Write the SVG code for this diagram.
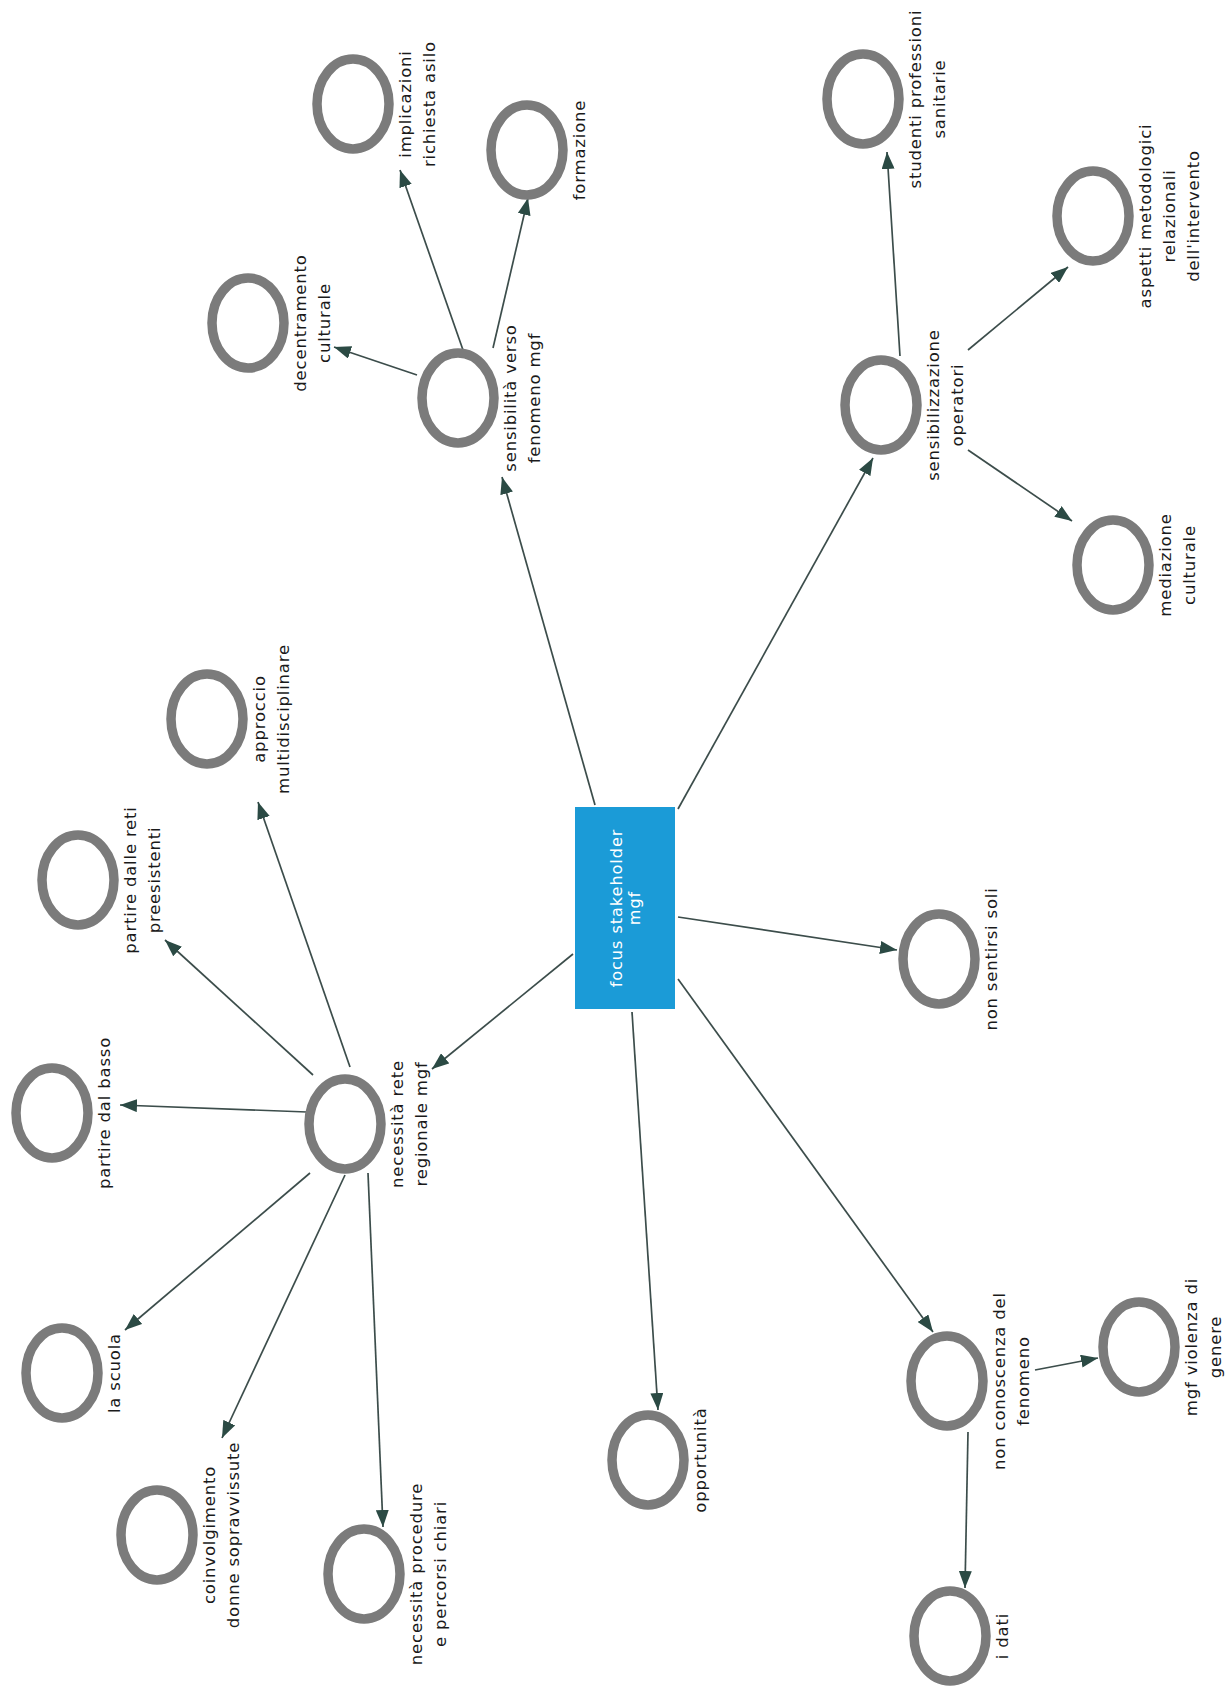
<svg xmlns="http://www.w3.org/2000/svg" width="1228" height="1687" viewBox="0 0 1228 1687">
<defs>
<marker id="arr" markerUnits="userSpaceOnUse" markerWidth="17" markerHeight="13" refX="17" refY="6.5" orient="auto" viewBox="0 0 17 13">
<path d="M0,0 L17,6.5 L0,13 z" fill="#2b4a44"/>
</marker>
<style>
.c{fill:#fff;stroke:#7b7b7b;stroke-width:9.5}
.t{font-family:"DejaVu Sans",sans-serif;font-size:16.5px;letter-spacing:0.8px;fill:#1a1a1a;text-anchor:middle}
.e line{stroke:#3c4d4b;stroke-width:1.7;marker-end:url(#arr)}
.ct{font-family:"DejaVu Sans",sans-serif;font-size:16px;letter-spacing:1px;fill:#fff;text-anchor:middle}
</style>
</defs>
<rect width="1228" height="1687" fill="#fff"/>
<g class="e" id="connectors">
<line x1="595" y1="805" x2="502" y2="477"/>
<line x1="678" y1="809" x2="873" y2="458"/>
<line x1="678" y1="917" x2="897" y2="950"/>
<line x1="678" y1="979" x2="933" y2="1332"/>
<line x1="632" y1="1012" x2="658" y2="1410"/>
<line x1="573" y1="954" x2="432" y2="1069"/>
<line x1="417" y1="375" x2="334" y2="347"/>
<line x1="463" y1="350" x2="400" y2="170"/>
<line x1="493" y1="348" x2="528" y2="198"/>
<line x1="900" y1="356" x2="887" y2="152"/>
<line x1="968" y1="350" x2="1068" y2="267"/>
<line x1="968" y1="450" x2="1072" y2="521"/>
<line x1="1035" y1="1370" x2="1098" y2="1358"/>
<line x1="968" y1="1432" x2="965" y2="1588"/>
<line x1="307" y1="1112" x2="120" y2="1105"/>
<line x1="313" y1="1075" x2="165" y2="940"/>
<line x1="350" y1="1067" x2="258" y2="802"/>
<line x1="310" y1="1173" x2="125" y2="1330"/>
<line x1="345" y1="1175" x2="222" y2="1438"/>
<line x1="368" y1="1173" x2="383" y2="1527"/>
</g>
<g id="n-center">
<rect x="575" y="807" width="100" height="202" fill="#1b9bd7"/>
<g transform="translate(622,908) rotate(-90)"><text class="ct"><tspan x="0" y="0">focus stakeholder</tspan><tspan x="0" y="18">mgf</tspan></text></g>
</g>
<g id="n-implicazioni"><ellipse class="c" cx="353" cy="104" rx="36" ry="45"/>
<g transform="translate(411,104) rotate(-90)"><text class="t"><tspan x="0" y="0">implicazioni</tspan><tspan x="0" y="24">richiesta asilo</tspan></text></g></g>
<g id="n-formazione"><ellipse class="c" cx="527" cy="150" rx="36" ry="45"/>
<g transform="translate(585,150) rotate(-90)"><text class="t"><tspan x="0" y="0">formazione</tspan></text></g></g>
<g id="n-decentramento"><ellipse class="c" cx="248" cy="323" rx="36" ry="45"/>
<g transform="translate(306,323) rotate(-90)"><text class="t"><tspan x="0" y="0">decentramento</tspan><tspan x="0" y="24">culturale</tspan></text></g></g>
<g id="n-sensibilita"><ellipse class="c" cx="458" cy="398" rx="36" ry="45"/>
<g transform="translate(516,398) rotate(-90)"><text class="t"><tspan x="0" y="0">sensibilità verso</tspan><tspan x="0" y="24">fenomeno mgf</tspan></text></g></g>
<g id="n-studenti"><ellipse class="c" cx="863" cy="99" rx="36" ry="45"/>
<g transform="translate(921,99) rotate(-90)"><text class="t"><tspan x="0" y="0">studenti professioni</tspan><tspan x="0" y="24">sanitarie</tspan></text></g></g>
<g id="n-sensibilizzazione"><ellipse class="c" cx="881" cy="405" rx="36" ry="45"/>
<g transform="translate(939,405) rotate(-90)"><text class="t"><tspan x="0" y="0">sensibilizzazione</tspan><tspan x="0" y="24">operatori</tspan></text></g></g>
<g id="n-aspetti"><ellipse class="c" cx="1093" cy="216" rx="36" ry="45"/>
<g transform="translate(1151,216) rotate(-90)"><text class="t"><tspan x="0" y="0">aspetti metodologici</tspan><tspan x="0" y="24">relazionali</tspan><tspan x="0" y="48">dell'intervento</tspan></text></g></g>
<g id="n-mediazione"><ellipse class="c" cx="1113" cy="565" rx="36" ry="45"/>
<g transform="translate(1171,565) rotate(-90)"><text class="t"><tspan x="0" y="0">mediazione</tspan><tspan x="0" y="24">culturale</tspan></text></g></g>
<g id="n-approccio"><ellipse class="c" cx="207" cy="719" rx="36" ry="45"/>
<g transform="translate(265,719) rotate(-90)"><text class="t"><tspan x="0" y="0">approccio</tspan><tspan x="0" y="24">multidisciplinare</tspan></text></g></g>
<g id="n-reti"><ellipse class="c" cx="78" cy="880" rx="36" ry="45"/>
<g transform="translate(136,880) rotate(-90)"><text class="t"><tspan x="0" y="0">partire dalle reti</tspan><tspan x="0" y="24">preesistenti</tspan></text></g></g>
<g id="n-basso"><ellipse class="c" cx="52" cy="1113" rx="36" ry="45"/>
<g transform="translate(110,1113) rotate(-90)"><text class="t"><tspan x="0" y="0">partire dal basso</tspan></text></g></g>
<g id="n-rete"><ellipse class="c" cx="345" cy="1124" rx="36" ry="45"/>
<g transform="translate(403,1124) rotate(-90)"><text class="t"><tspan x="0" y="0">necessità rete</tspan><tspan x="0" y="24">regionale mgf</tspan></text></g></g>
<g id="n-scuola"><ellipse class="c" cx="62" cy="1373" rx="36" ry="45"/>
<g transform="translate(120,1373) rotate(-90)"><text class="t"><tspan x="0" y="0">la scuola</tspan></text></g></g>
<g id="n-coinvolgimento"><ellipse class="c" cx="157" cy="1535" rx="36" ry="45"/>
<g transform="translate(215,1535) rotate(-90)"><text class="t"><tspan x="0" y="0">coinvolgimento</tspan><tspan x="0" y="24">donne sopravvissute</tspan></text></g></g>
<g id="n-procedure"><ellipse class="c" cx="364" cy="1574" rx="36" ry="45"/>
<g transform="translate(422,1574) rotate(-90)"><text class="t"><tspan x="0" y="0">necessità procedure</tspan><tspan x="0" y="24">e percorsi chiari</tspan></text></g></g>
<g id="n-opportunita"><ellipse class="c" cx="648" cy="1460" rx="36" ry="45"/>
<g transform="translate(706,1460) rotate(-90)"><text class="t"><tspan x="0" y="0">opportunità</tspan></text></g></g>
<g id="n-conoscenza"><ellipse class="c" cx="947" cy="1381" rx="36" ry="45"/>
<g transform="translate(1005,1381) rotate(-90)"><text class="t"><tspan x="0" y="0">non conoscenza del</tspan><tspan x="0" y="24">fenomeno</tspan></text></g></g>
<g id="n-dati"><ellipse class="c" cx="950" cy="1636" rx="36" ry="45"/>
<g transform="translate(1008,1636) rotate(-90)"><text class="t"><tspan x="0" y="0">i dati</tspan></text></g></g>
<g id="n-violenza"><ellipse class="c" cx="1139" cy="1347" rx="36" ry="45"/>
<g transform="translate(1197,1347) rotate(-90)"><text class="t"><tspan x="0" y="0">mgf violenza di</tspan><tspan x="0" y="24">genere</tspan></text></g></g>
<g id="n-soli"><ellipse class="c" cx="939" cy="959" rx="36" ry="45"/>
<g transform="translate(997,959) rotate(-90)"><text class="t"><tspan x="0" y="0">non sentirsi soli</tspan></text></g></g>
</svg>
